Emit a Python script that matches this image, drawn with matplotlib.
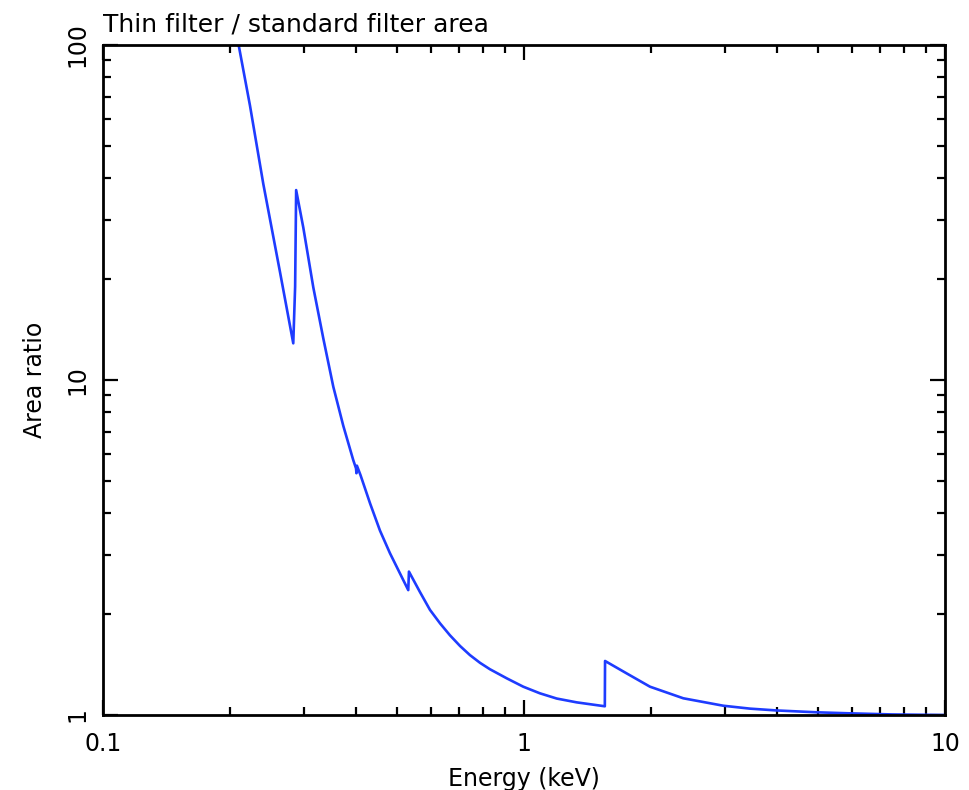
import numpy as np
import matplotlib
matplotlib.use("Agg")
from matplotlib import pyplot as plt
from matplotlib.ticker import LogLocator, NullFormatter, FixedLocator

# Energy (keV) and thin/standard filter area ratio
energy = [0.200, 0.210, 0.2234, 0.2403, 0.2633, 0.2831, 0.2860, 0.2876,
          0.2991, 0.3159, 0.3337, 0.3524, 0.3722, 0.393, 0.399, 0.400, 0.401,
          0.409, 0.431, 0.455, 0.4805, 0.531, 0.533, 0.566, 0.598, 0.632,
          0.667, 0.705, 0.744, 0.786, 0.830, 0.910, 0.996, 1.091, 1.196,
          1.334, 1.556, 1.558, 1.754, 1.992, 2.39, 2.975, 3.44, 3.98, 4.95,
          5.9, 7.5, 10.0]
ratio = [140.0, 100.0, 66.0, 38.5, 21.0, 12.87, 19.0, 36.9,
         28.5, 18.9, 13.3, 9.55, 7.3, 5.77, 5.45, 5.27, 5.55,
         5.20, 4.28, 3.55, 3.04, 2.36, 2.68, 2.33, 2.06, 1.877,
         1.73, 1.607, 1.51, 1.432, 1.37, 1.287, 1.215, 1.161, 1.12,
         1.091, 1.062, 1.45, 1.331, 1.215, 1.122, 1.066, 1.045, 1.032, 1.019,
         1.012, 1.004, 1.0]

x_ticks = [0.1, 1, 10]
x_labels = ["0.1", "1", "10"]
y_ticks = [1, 10, 100]
y_labels = ["1", "10", "100"]

plt.rcParams['font.family'] = ['DejaVu Sans']

fig = plt.figure(figsize=(9.69, 7.90), dpi=100)
ax = fig.add_axes([0.1063, 0.0949, 0.8689, 0.8481])

ax.plot(energy, ratio, color='#1e3cff', lw=1.9)

ax.set_xscale('log')
ax.set_yscale('log')
ax.set_xlim(0.1, 10)
ax.set_ylim(1, 100)

ax.xaxis.set_major_locator(FixedLocator(x_ticks))
ax.set_xticklabels(x_labels)
ax.yaxis.set_major_locator(FixedLocator(y_ticks))
ax.set_yticklabels(y_labels, rotation=90, va='center')
ax.xaxis.set_minor_locator(LogLocator(base=10, subs=np.arange(2, 10)))
ax.yaxis.set_minor_locator(LogLocator(base=10, subs=np.arange(2, 10)))
ax.xaxis.set_minor_formatter(NullFormatter())
ax.yaxis.set_minor_formatter(NullFormatter())

ax.tick_params(which='both', direction='in', top=True, right=True,
               width=1.6, labelsize=17, color='black')
ax.tick_params(axis='x', which='major', length=11, pad=12)
ax.tick_params(axis='y', which='major', length=11, pad=10)
ax.tick_params(which='minor', length=5.5)
for s in ax.spines.values():
    s.set_linewidth(2)

ax.set_xlabel("Energy (keV)", fontsize=17, labelpad=8)
ax.set_ylabel("Area ratio", fontsize=17, labelpad=13)
ax.set_title("Thin filter / standard filter area", loc='left', fontsize=18, pad=10)

fig.savefig("out.png", dpi=100)
